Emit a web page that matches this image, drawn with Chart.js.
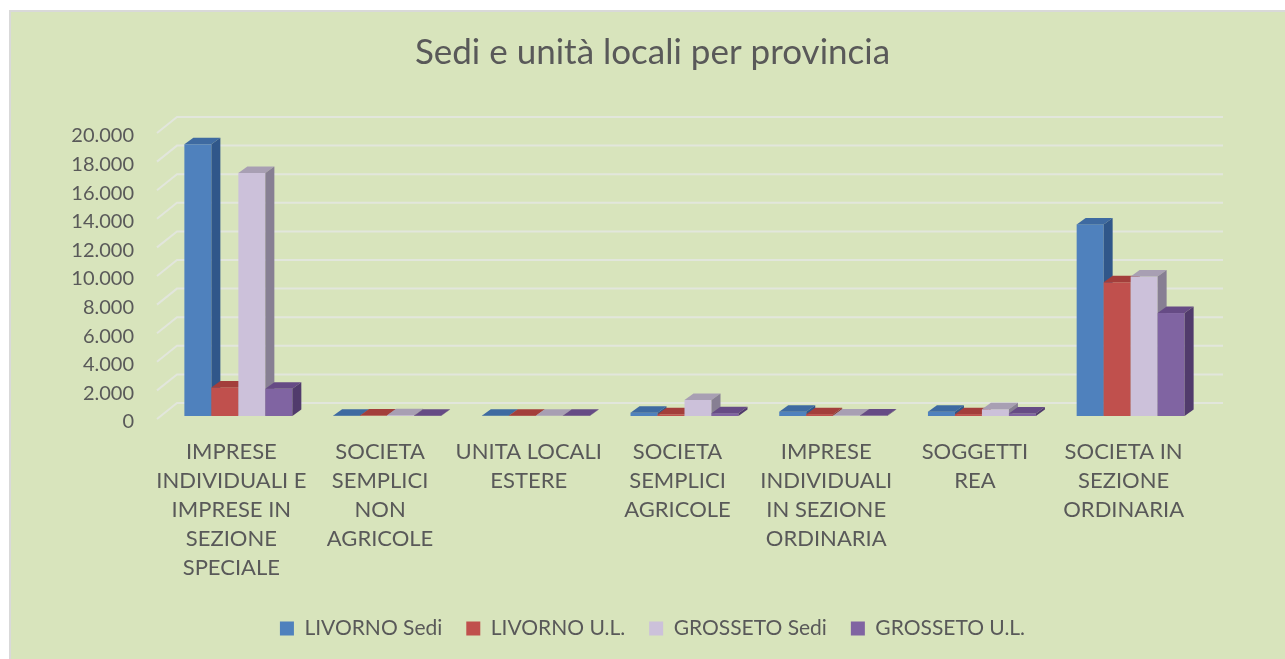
<!DOCTYPE html>
<html lang="it">
<head>
<meta charset="utf-8">
<title>Sedi e unità locali per provincia</title>
<script src="https://cdn.jsdelivr.net/npm/chart.js@4.4.1/dist/chart.umd.min.js"></script>
<style>
    html, body { margin: 0; padding: 0; background: #ffffff; }
    canvas { display: block; }
</style>
</head>
<body>
<canvas id="sediChart" width="1285" height="659"></canvas>
<script>
// Categories (multi-line labels as shown under the axis)
const categories = [
    ['IMPRESE', 'INDIVIDUALI E', 'IMPRESE IN', 'SEZIONE', 'SPECIALE'],
    ['SOCIETA', 'SEMPLICI', 'NON', 'AGRICOLE'],
    ['UNITA LOCALI', 'ESTERE'],
    ['SOCIETA', 'SEMPLICI', 'AGRICOLE'],
    ['IMPRESE', 'INDIVIDUALI', 'IN SEZIONE', 'ORDINARIA'],
    ['SOGGETTI', 'REA'],
    ['SOCIETA IN', 'SEZIONE', 'ORDINARIA']
];

// Series values
const livornoSedi   = [19000, 20, 10, 230, 300, 300, 13400];
const livornoUL     = [2000, 30, 20, 120, 130, 130, 9350];
const grossetoSedi  = [17000, 60, 10, 1120, 40, 470, 9750];
const grossetoUL    = [1900, 20, 10, 200, 30, 180, 7200];

const seriesNames = ['LIVORNO Sedi', 'LIVORNO U.L.', 'GROSSETO Sedi', 'GROSSETO U.L.'];

// Value axis
const yMin = 0;
const yMax = 20000;
const yStep = 2000;

(function () {
    const FONT = 'Lato, "Open Sans", sans-serif';
    const TEXT = '#595959';

    // front / top / side colours for each series
    const faces = [
        { front: '#4f81bd', top: '#3e6aa1', side: '#30578a' },
        { front: '#c0504d', top: '#a33e3b', side: '#8c3431' },
        { front: '#ccc1da', top: '#a89fb3', side: '#877f93' },
        { front: '#8064a2', top: '#664b85', side: '#513b6c' }
    ];

    // depth of bars and of back wall (pixels)
    const DX = 9, DY = -6.5;
    const WALL_DX = 20, WALL_DY = -13;

    function fmt(v) {
        return String(v).replace(/\B(?=(\d{3})+(?!\d))/g, '.');
    }

    const excel3d = {
        id: 'excel3d',
        beforeDraw(chart) {
            const ctx = chart.ctx;
            ctx.save();
            ctx.fillStyle = '#ffffff';
            ctx.fillRect(0, 0, chart.width, chart.height);
            ctx.fillStyle = '#d8e4bc';
            ctx.fillRect(9, 10, chart.width - 9, chart.height - 10);
            ctx.strokeStyle = '#d9d9d9';
            ctx.lineWidth = 2;
            ctx.beginPath();
            ctx.moveTo(10, chart.height);
            ctx.lineTo(10, 11);
            ctx.lineTo(chart.width, 11);
            ctx.stroke();
            ctx.restore();
        },
        beforeDatasetsDraw(chart) {
            const ctx = chart.ctx;
            const area = chart.chartArea;
            const y = chart.scales.y;

            // back wall gridlines + left wall diagonals
            ctx.save();
            ctx.strokeStyle = '#e2e6dc';
            ctx.lineWidth = 2;
            y.ticks.forEach(t => {
                const yp = y.getPixelForValue(t.value);
                ctx.beginPath();
                ctx.moveTo(area.left - 7, yp + 3);
                ctx.lineTo(area.left + WALL_DX - 7, yp + WALL_DY);
                ctx.lineTo(area.right + WALL_DX - 2, yp + WALL_DY);
                ctx.stroke();
            });
            ctx.restore();

            // bars, category by category so neighbours overlap correctly
            const n = chart.data.labels.length;
            ctx.save();
            for (let i = 0; i < n; i++) {
                chart.data.datasets.forEach((ds, d) => {
                    const el = chart.getDatasetMeta(d).data[i];
                    const p = el.getProps(['x', 'y', 'base', 'width'], true);
                    const x0 = p.x - p.width / 2, x1 = p.x + p.width / 2;
                    const top = Math.min(p.y, p.base), bot = p.base;
                    const c = faces[d];

                    ctx.fillStyle = c.front;
                    ctx.fillRect(x0, top, x1 - x0, bot - top);

                    ctx.fillStyle = c.top;
                    ctx.beginPath();
                    ctx.moveTo(x0, top);
                    ctx.lineTo(x1, top);
                    ctx.lineTo(x1 + DX, top + DY);
                    ctx.lineTo(x0 + DX, top + DY);
                    ctx.closePath();
                    ctx.fill();

                    ctx.fillStyle = c.side;
                    ctx.beginPath();
                    ctx.moveTo(x1, top);
                    ctx.lineTo(x1 + DX, top + DY);
                    ctx.lineTo(x1 + DX, bot + DY);
                    ctx.lineTo(x1, bot);
                    ctx.closePath();
                    ctx.fill();
                });
            }
            ctx.restore();
            return false;
        }
    };

    const ctx = document.getElementById('sediChart');

    new Chart(ctx, {
        type: 'bar',
        data: {
            labels: categories,
            datasets: [livornoSedi, livornoUL, grossetoSedi, grossetoUL].map((vals, d) => ({
                label: seriesNames[d],
                data: vals,
                backgroundColor: faces[d].front,
                borderWidth: 0,
                categoryPercentage: 0.726,
                barPercentage: 1,
                yAxisID: 'y'
            }))
        },
        options: {
            responsive: false,
            animation: false,
            devicePixelRatio: 1,
            layout: {
                padding: { left: 20, right: 0, top: 0, bottom: 10 }
            },
            plugins: {
                title: {
                    display: true,
                    text: 'Sedi e unità locali per provincia',
                    color: TEXT,
                    font: { family: FONT, size: 35, weight: 'normal', lineHeight: 1.2 },
                    padding: { top: 32, bottom: 56 }
                },
                legend: {
                    position: 'bottom',
                    labels: {
                        color: TEXT,
                        font: { family: FONT, size: 21 },
                        boxWidth: 14,
                        boxHeight: 14,
                        padding: 24
                    }
                },
                tooltip: { enabled: false }
            },
            scales: {
                x: {
                    grid: { display: false },
                    border: { display: false },
                    ticks: {
                        color: TEXT,
                        font: { family: FONT, size: 22, lineHeight: 1.32 },
                        padding: 13,
                        labelOffset: -7,
                        autoSkip: false,
                        maxRotation: 0,
                        minRotation: 0
                    },
                    afterFit(scale) { scale.height = 178; }
                },
                y: {
                    min: yMin,
                    max: yMax,
                    grid: { display: false },
                    border: { display: false },
                    ticks: {
                        stepSize: yStep,
                        autoSkip: false,
                        color: TEXT,
                        font: { family: FONT, size: 20 },
                        padding: 22,
                        labelOffset: 6,
                        callback: v => fmt(v)
                    },
                    afterFit(scale) { scale.width = 144; }
                },
                // empty spacer on the right, keeps the plot clear of the edge
                spacer: {
                    type: 'linear',
                    position: 'right',
                    grid: { display: false },
                    border: { display: false },
                    ticks: { display: false },
                    afterFit(scale) { scale.width = 80; }
                }
            }
        },
        plugins: [excel3d]
    });
})();
</script>
</body>
</html>
